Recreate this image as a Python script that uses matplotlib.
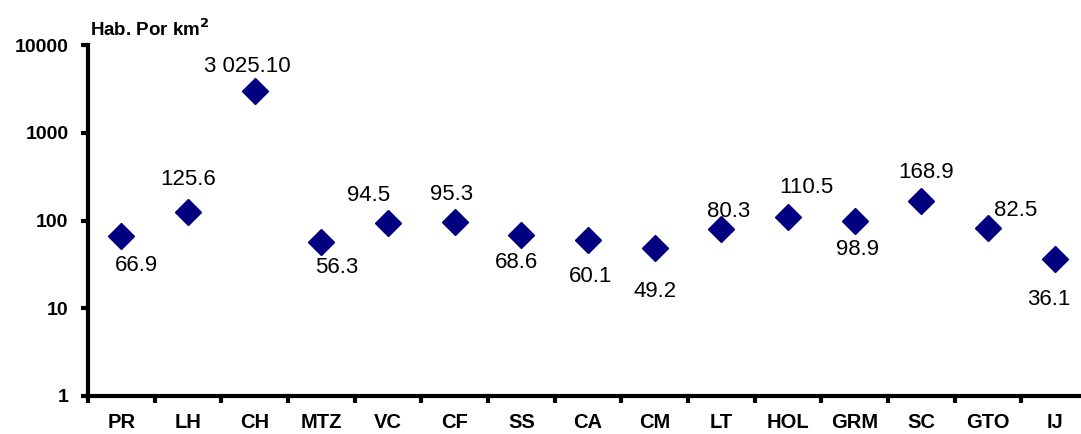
import matplotlib.pyplot as plt

plt.rcParams['font.family'] = ['Liberation Sans', 'DejaVu Sans']

# Dados
municipios = ["PR", "LH", "CH", "MTZ", "VC", "CF", "SS", "CA", "CM", "LT", "HOL", "GRM", "SC", "GTO", "IJ"]
densidade = [66.9, 125.6, 3025.10, 56.3, 94.5, 95.3, 68.6, 60.1, 49.2, 80.3, 110.5, 98.9, 168.9, 82.5, 36.1]
rotulos = ["66.9", "125.6", "3 025.10", "56.3", "94.5", "95.3", "68.6", "60.1", "49.2",
           "80.3", "110.5", "98.9", "168.9", "82.5", "36.1"]

# deslocamento do centro dos rótulos em pixels (dx, dy)
desloc = [(15, -27), (0, 35), (-7, 27), (15, -23), (-19, 30), (-3, 30), (-5, -25), (3, -34),
          (0, -41), (7, 20), (18, 32), (3, -26), (5, 31), (28, 20), (-6, -38)]

fig = plt.figure(figsize=(10.81, 4.34), dpi=100)
ax = fig.add_axes([88 / 1081, 38 / 434, 1000 / 1081, 351 / 434])

x = list(range(len(municipios)))
ax.plot(x, densidade, linestyle="none", marker="D", markersize=13.5, color="#000080")

# rótulos dos valores (baseline ajustada para centrar os dígitos)
for xi, v, txt, (dx, dy) in zip(x, densidade, rotulos, desloc):
    ax.annotate(txt, (xi, v), xytext=(dx, dy - 8), textcoords="offset pixels",
                ha="center", va="baseline", fontsize=16)

ax.set_yscale("log")
ax.set_ylim(1, 10000)
ax.set_xlim(-0.5, len(municipios) - 0.5)
ax.set_yticks([1, 10, 100, 1000, 10000])
ax.set_yticklabels(["1", "10", "100", "1000", "10000"])
ax.minorticks_off()

# marcas do eixo x entre as categorias
ax.set_xticks([i - 0.5 for i in x], minor=False)
ax.set_xticklabels([])
ax.set_xticks(x, minor=True)
ax.set_xticklabels(municipios, minor=True)
ax.tick_params(axis="x", which="minor", length=0, pad=12, labelsize=14.5)
ax.tick_params(axis="x", which="major", direction="out", length=5, width=3)
ax.tick_params(axis="y", direction="out", length=5, width=3, pad=9, labelsize=14)
for lab in ax.get_xticklabels(minor=True) + ax.get_yticklabels():
    lab.set_fontweight("bold")

for s in ["top", "right"]:
    ax.spines[s].set_visible(False)
for s in ["left", "bottom"]:
    ax.spines[s].set_linewidth(3)

fig.text(90 / 1081, 1 - 29 / 434, "Hab. Por km$^\\mathbf{2}$", fontsize=13.5, fontweight="bold",
         ha="left", va="center")

fig.savefig("out.png", dpi=100)
